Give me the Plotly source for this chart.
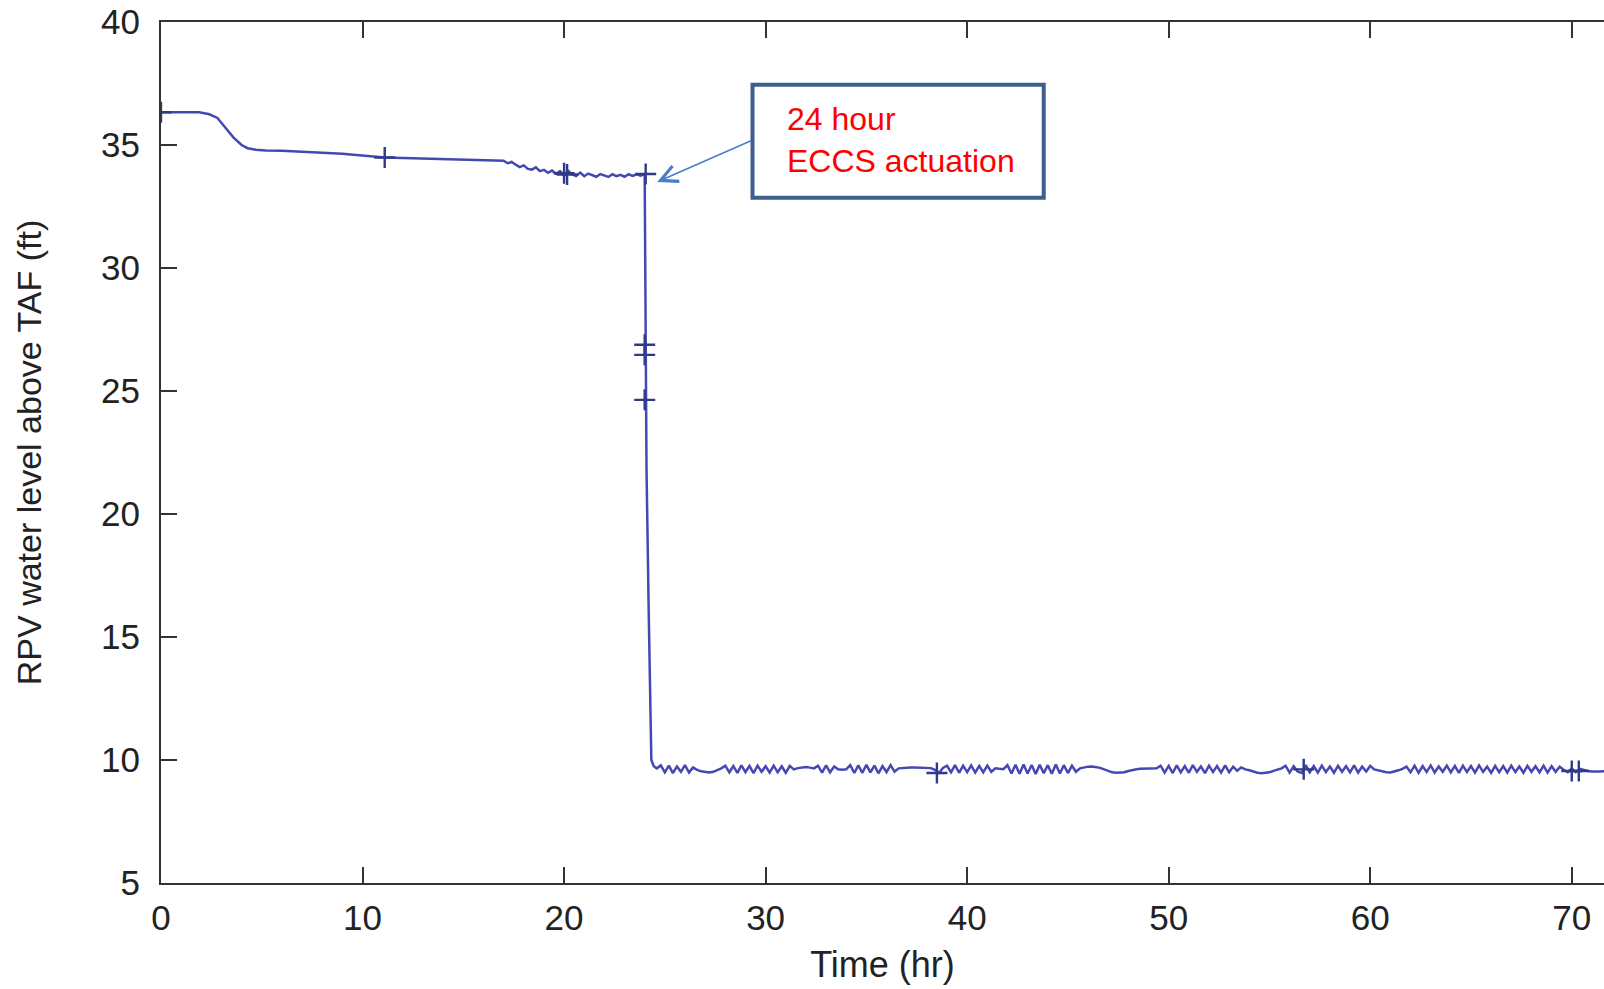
import numpy as np
import plotly.graph_objects as go

# RPV water level above TAF (ft) vs time (hr)

# early phase: slow boil-off before the level settles
t_early = [0.0, 0.5, 1.0, 1.5, 1.9, 2.4, 2.8, 3.2, 3.6, 4.0, 4.3, 4.7, 5.2, 6.0, 7.0,
           8.0, 9.0, 10.0, 11.1, 12.0, 13.0, 14.0, 15.0, 16.0, 16.8]
y_early = [36.33, 36.33, 36.33, 36.33, 36.33, 36.25, 36.10, 35.70, 35.30, 35.00, 34.87,
           34.81, 34.78, 34.77, 34.74, 34.69, 34.64, 34.58, 34.49, 34.47, 34.45, 34.43,
           34.41, 34.39, 34.38]

# noisy creep down toward the 24 h mark
t_creep = [17.0, 17.2, 17.4, 17.6, 17.8, 18.0, 18.2, 18.4, 18.6, 18.8, 19.0, 19.2,
           19.4, 19.6, 19.8, 20.0, 20.2, 20.4, 20.6, 20.8, 21.0, 21.2, 21.4, 21.6,
           21.8, 22.0, 22.2, 22.4, 22.6, 22.8, 23.0, 23.2, 23.4, 23.6, 23.8, 24.0]
y_creep = [34.36, 34.26, 34.31, 34.20, 34.10, 34.17, 34.03, 34.00, 34.09, 33.94, 33.99,
           33.87, 33.96, 33.83, 33.94, 33.76, 33.95, 33.80, 33.74, 33.88, 33.73, 33.84,
           33.76, 33.71, 33.82, 33.75, 33.70, 33.81, 33.73, 33.79, 33.71, 33.81, 33.74,
           33.81, 33.75, 33.82]

# ECCS actuation: fast drop
t_drop = [24.02, 24.04, 24.06, 24.09, 24.2, 24.33, 24.45]
y_drop = [30.0, 26.6, 24.0, 21.9, 16.0, 10.0, 9.75]

# late phase, sampled every 0.2 hr from 24.6 hr
TAIL_START = 24.6
TAIL_STEP = 0.2
y_tail = [
    9.66, 9.78, 9.50, 9.77, 9.47, 9.74, 9.52, 9.79, 9.49, 9.70,  # 24.6
    9.60, 9.54, 9.50, 9.49, 9.52, 9.58, 9.66, 9.77, 9.50, 9.75,  # 26.6
    9.48, 9.78, 9.51, 9.76, 9.47, 9.77, 9.52, 9.75, 9.49, 9.77,  # 28.6
    9.50, 9.74, 9.48, 9.76, 9.62, 9.67, 9.70, 9.71, 9.69, 9.66,  # 30.6
    9.77, 9.49, 9.78, 9.50, 9.74, 9.62, 9.60, 9.62, 9.79, 9.47,  # 32.6
    9.78, 9.48, 9.80, 9.50, 9.77, 9.46, 9.75, 9.51, 9.79, 9.53,  # 34.6
    9.66, 9.68, 9.69, 9.70, 9.70, 9.69, 9.68, 9.68, 9.67, 9.60,  # 36.6
    9.47, 9.68, 9.77, 9.50, 9.79, 9.48, 9.77, 9.51, 9.78, 9.49,  # 38.6
    9.76, 9.50, 9.77, 9.52, 9.66, 9.64, 9.63, 9.79, 9.45, 9.81,  # 40.6
    9.44, 9.82, 9.45, 9.80, 9.43, 9.81, 9.46, 9.79, 9.44, 9.82,  # 42.6
    9.45, 9.79, 9.47, 9.77, 9.52, 9.66, 9.70, 9.73, 9.74, 9.72,  # 44.6
    9.68, 9.62, 9.55, 9.50, 9.48, 9.48, 9.50, 9.55, 9.60, 9.62,  # 46.6
    9.64, 9.65, 9.65, 9.64, 9.66, 9.77, 9.49, 9.76, 9.47, 9.78,  # 48.6
    9.50, 9.75, 9.48, 9.79, 9.52, 9.74, 9.47, 9.77, 9.51, 9.75,  # 50.6
    9.49, 9.78, 9.50, 9.73, 9.56, 9.70, 9.62, 9.58, 9.52, 9.48,  # 52.6
    9.46, 9.47, 9.50, 9.56, 9.62, 9.66, 9.77, 9.49, 9.75, 9.53,  # 54.6
    9.47, 9.79, 9.50, 9.75, 9.49, 9.77, 9.51, 9.74, 9.48, 9.76,  # 56.6
    9.52, 9.75, 9.50, 9.78, 9.49, 9.73, 9.53, 9.76, 9.62, 9.58,  # 58.6
    9.53, 9.50, 9.49, 9.52, 9.58, 9.64, 9.73, 9.50, 9.77, 9.48,  # 60.6
    9.75, 9.51, 9.78, 9.49, 9.74, 9.52, 9.77, 9.50, 9.76, 9.48,  # 62.6
    9.77, 9.51, 9.75, 9.49, 9.78, 9.52, 9.73, 9.48, 9.76, 9.50,  # 64.6
    9.75, 9.49, 9.77, 9.51, 9.74, 9.48, 9.76, 9.52, 9.75, 9.50,  # 66.6
    9.77, 9.49, 9.75, 9.52, 9.73, 9.60, 9.50, 9.66, 9.51, 9.64,  # 68.6
    9.58, 9.55, 9.53, 9.52, 9.53, 9.54, 9.55,                    # 70.6
]
t_tail = list(np.round(TAIL_START + TAIL_STEP * np.arange(len(y_tail)), 2))

# "+" markers drawn on the curve
mark_t = [0.0, 11.1, 20.0, 20.15, 24.05, 24.0, 24.0, 24.0, 38.5, 56.7, 70.0, 70.35]
mark_y = [36.33, 34.49, 33.85, 33.80, 33.82, 26.88, 26.47, 24.64, 9.47, 9.62, 9.55, 9.55]

x_ticks = [0, 10, 20, 30, 40, 50, 60, 70]
y_ticks = [5, 10, 15, 20, 25, 30, 35, 40]

t_all = t_early + t_creep + t_drop + t_tail
y_all = y_early + y_creep + y_drop + y_tail

FONT = "Liberation Sans, Arial, sans-serif"
AXIS = "#333333"

fig = go.Figure()

fig.add_trace(go.Scatter(
    x=t_all, y=y_all, mode="lines",
    line=dict(color="#4548B2", width=2.5),
    showlegend=False,
))
fig.add_trace(go.Scatter(
    x=mark_t, y=mark_y, mode="markers",
    marker=dict(symbol="cross-thin", size=15, line=dict(color="#2F3A88", width=2.4)),
    showlegend=False,
))

# callout box, text and arrow
fig.add_shape(type="rect", xref="x", yref="y",
              x0=29.35, x1=43.8, y0=32.86, y1=37.45,
              line=dict(color="#3D5F8E", width=4), fillcolor="rgba(0,0,0,0)")
fig.add_annotation(x=30.95, y=35.2, xref="x", yref="y",
                   text="24 hour<br>ECCS actuation", showarrow=False,
                   xanchor="left", yanchor="middle", align="left",
                   font=dict(family=FONT, size=32, color="#FF0000"))
fig.add_annotation(x=24.62, y=33.5, xref="x", yref="y",
                   ax=29.35, ay=35.2, axref="x", ayref="y",
                   text="", showarrow=True, arrowhead=5, arrowsize=2.2,
                   arrowwidth=1.5, arrowcolor="#4A7CC8")

fig.update_layout(
    width=1604, height=989,
    margin=dict(l=161, r=0, t=22, b=106),
    plot_bgcolor="white", paper_bgcolor="white",
    font=dict(family=FONT, size=34, color="#222222"),
    xaxis=dict(
        range=[0, 71.6], tickvals=x_ticks, ticks="inside", ticklen=16, tickwidth=2,
        tickcolor=AXIS, showline=True, linecolor=AXIS, linewidth=2, mirror="ticks",
        showgrid=False, zeroline=False, ticklabelstandoff=3, automargin=False,
        tickfont=dict(size=35),
        title=dict(text="Time (hr)", standoff=16, font=dict(size=36)),
    ),
    yaxis=dict(
        range=[5, 40], tickvals=y_ticks, ticks="inside", ticklen=16, tickwidth=2,
        tickcolor=AXIS, showline=True, linecolor=AXIS, linewidth=2, mirror=False,
        showgrid=False, zeroline=False, ticklabelstandoff=12, automargin=False,
        tickfont=dict(size=35),
        title=dict(text="RPV water level above TAF (ft)", standoff=49, font=dict(size=34)),
    ),
)

# page body has a default 8px margin; drop it so the figure fills the window
fig.write_html("out.html", config={"displayModeBar": False},
               post_script="document.body.style.margin='0';")
